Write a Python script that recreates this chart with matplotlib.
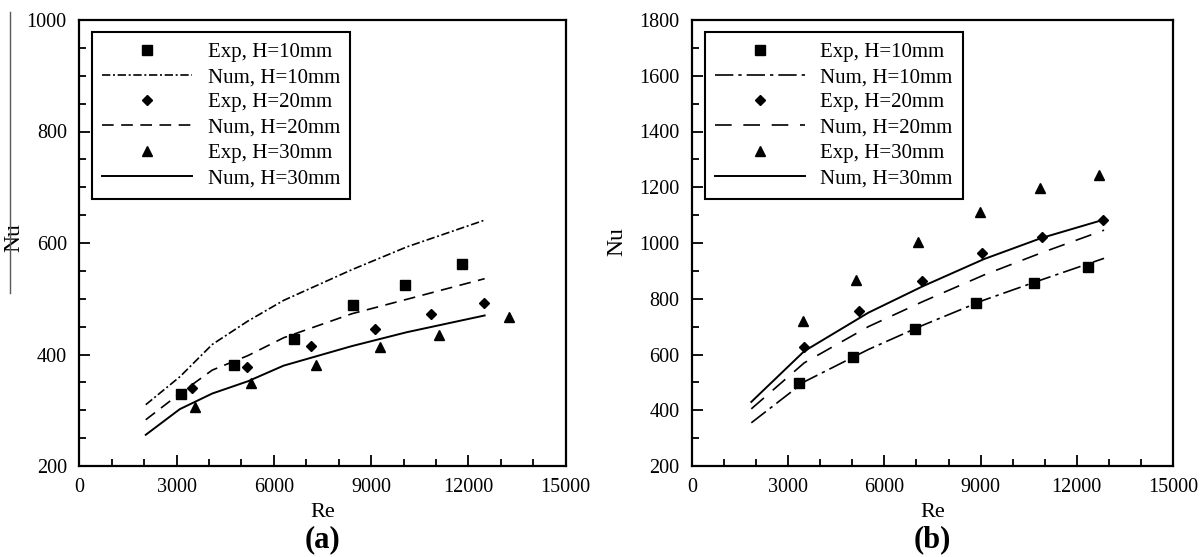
import matplotlib
matplotlib.use("Agg")
import matplotlib.pyplot as plt
from matplotlib.lines import Line2D
from matplotlib.ticker import MultipleLocator

plt.rcParams['font.family'] = ['Liberation Serif', 'DejaVu Serif']

# ---- panel (a) data ----
a_exp10_re = [3140, 4780, 6620, 8440, 10040, 11810]
a_exp10_nu = [330, 381, 427, 489, 525, 563]
a_exp20_re = [3490, 5170, 7150, 9130, 10860, 12490]
a_exp20_nu = [340, 377, 416, 446, 473, 493]
a_exp30_re = [3580, 5310, 7290, 9280, 11090, 13240]
a_exp30_nu = [305, 349, 382, 413, 435, 467]
a_num_re = [2050, 3100, 4100, 5200, 6300, 8400, 10100, 12500]
a_num10 = [310, 360, 418, 460, 497, 552, 593, 641]
a_num20 = [283, 330, 372, 398, 430, 473, 499, 536]
a_num30 = [256, 302, 330, 352, 380, 415, 440, 470]

# ---- panel (b) data ----
b_exp10_re = [3330, 5010, 6940, 8870, 10670, 12340]
b_exp10_nu = [496, 592, 690, 783, 856, 914]
b_exp20_re = [3490, 5200, 7180, 9050, 10910, 12820]
b_exp20_nu = [626, 755, 863, 963, 1020, 1081]
b_exp30_re = [3470, 5115, 7050, 8990, 10840, 12700]
b_exp30_nu = [719, 869, 1005, 1111, 1196, 1244]
b_num_re = [1850, 3500, 5500, 7200, 9100, 10900, 12850]
b_num10 = [355, 502, 618, 705, 795, 868, 945]
b_num20 = [405, 570, 700, 790, 885, 965, 1046]
b_num30 = [430, 612, 750, 845, 942, 1018, 1084]

labels = ["Exp, H=10mm", "Num, H=10mm", "Exp, H=20mm",
          "Num, H=20mm", "Exp, H=30mm", "Num, H=30mm"]

W, H = 1201, 557
fig = plt.figure(figsize=(W / 100, H / 100), dpi=100)


def px_axes(x0, x1, y0, y1):
    return fig.add_axes([x0 / W, 1 - y1 / H, (x1 - x0) / W, (y1 - y0) / H])


def style(ax, ymin, ymax, ymaj, ymin_step):
    ax.set_xlim(0, 15000)
    ax.set_ylim(ymin, ymax)
    ax.xaxis.set_major_locator(MultipleLocator(3000))
    ax.xaxis.set_minor_locator(MultipleLocator(1000))
    ax.yaxis.set_major_locator(MultipleLocator(ymaj))
    ax.yaxis.set_minor_locator(MultipleLocator(ymin_step))
    ax.tick_params(which='both', direction='in', top=False, right=False,
                   width=1.3, labelsize=14.5)
    ax.tick_params(which='major', length=8)
    ax.tick_params(which='minor', length=5)
    ax.tick_params(axis='x', which='major', pad=9)
    ax.tick_params(axis='y', which='major', pad=9)
    for s in ax.spines.values():
        s.set_linewidth(1.6)


def draw(ax, d, dd, ds):
    (e10x, e10y, e20x, e20y, e30x, e30y, nx, n10, n20, n30) = d
    h1, = ax.plot(e10x, e10y, 's', color='k', ms=6.5, ls='none')
    h2, = ax.plot(nx, n10, color='k', lw=1.2, dashes=dd)
    h3, = ax.plot(e20x, e20y, 'D', color='k', ms=5.5, ls='none')
    h4, = ax.plot(nx, n20, color='k', lw=1.2, dashes=ds)
    h5, = ax.plot(e30x, e30y, '^', color='k', ms=6.5, ls='none')
    h6, = ax.plot(nx, n30, color='k', lw=1.4, ls='-')
    leg = ax.legend([h1, h2, h3, h4, h5, h6], labels, loc='upper left',
                    bbox_to_anchor=(0.026, 0.973), borderaxespad=0,
                    fontsize=15, handlelength=4.3, handletextpad=0.75,
                    borderpad=0.5, labelspacing=0.27, numpoints=1,
                    fancybox=False, framealpha=1, edgecolor='k')
    leg.get_frame().set_linewidth(1.5)


def labels_for(ax, tag, nu_x, nu_y):
    ax.text(nu_x, nu_y, "Nu", transform=ax.transAxes, rotation=90,
            ha='center', va='center', fontsize=17)
    ax.text(0.5, -0.105, "Re", transform=ax.transAxes, ha='center',
            va='center', fontsize=16)
    ax.text(0.5, -0.166, tag, transform=ax.transAxes, ha='center',
            va='center', fontsize=22, fontweight='bold')


# panel (a)
axa = px_axes(79.3, 565.7, 20, 466)
style(axa, 200, 1000, 200, 50)
draw(axa, (a_exp10_re, a_exp10_nu, a_exp20_re, a_exp20_nu, a_exp30_re,
           a_exp30_nu, a_num_re, a_num10, a_num20, a_num30),
     (5, 1.6, 1.2, 1.6), (7, 4.5))
labels_for(axa, "(a)", -0.134, 0.513)

# panel (b)
axb = px_axes(692, 1173, 20, 466)
style(axb, 200, 1800, 200, 100)
draw(axb, (b_exp10_re, b_exp10_nu, b_exp20_re, b_exp20_nu, b_exp30_re,
           b_exp30_nu, b_num_re, b_num10, b_num20, b_num30),
     (11, 3, 2, 3), (10, 7))
labels_for(axb, "(b)", -0.156, 0.503)

# stray vertical rule at the far left of the scan
fig.add_artist(Line2D([10 / W, 10 / W], [1 - 12 / H, 1 - 293 / H],
                      color='0.35', lw=1, transform=fig.transFigure))

fig.savefig("out.png", dpi=100)
